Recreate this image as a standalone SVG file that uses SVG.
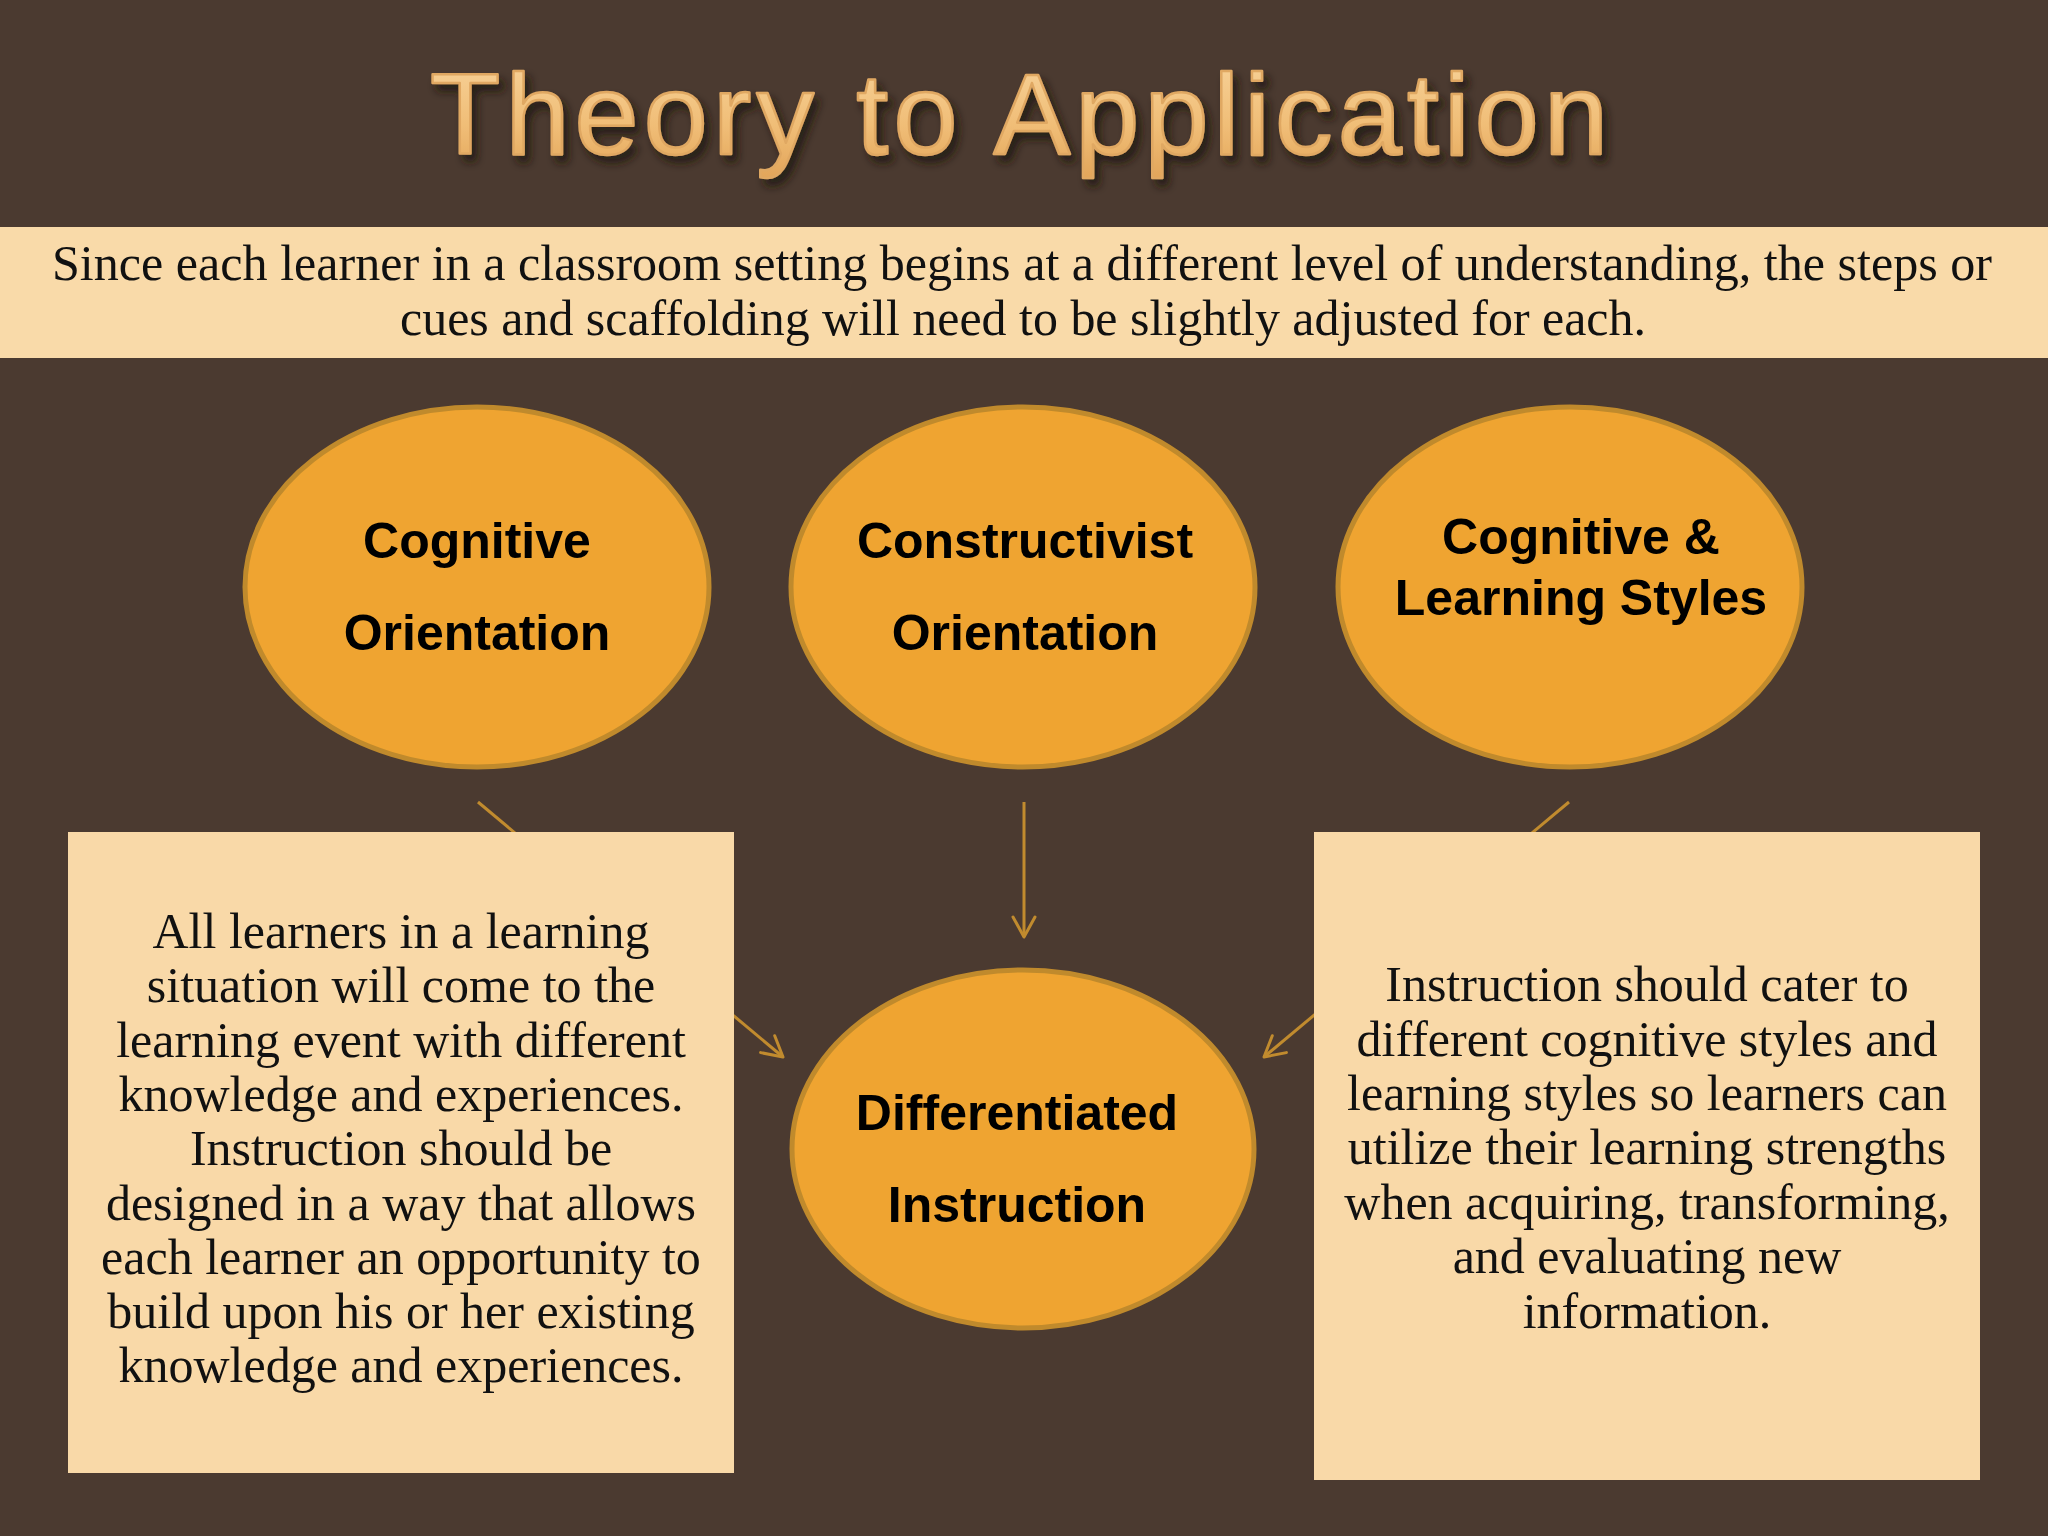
<svg xmlns="http://www.w3.org/2000/svg" width="2048" height="1536" viewBox="0 0 2048 1536">
  <style>
    .node-ellipse { fill: #efa431; stroke: #c08a2c; stroke-width: 5; }
    .node-label { font-family: "Liberation Sans", Arial, sans-serif; font-weight: bold; font-size: 50px; fill: #000; text-anchor: middle; }
    .box { fill: #f9d9a8; }
    .body { font-family: "Liberation Serif", "Times New Roman", serif; font-size: 50px; fill: #111; text-anchor: middle; }
    .conn { stroke: #c18b2e; stroke-width: 3; fill: none; }
  </style>
  <defs>
    <linearGradient id="titleGrad" x1="0" y1="0" x2="0" y2="1">
      <stop offset="0" stop-color="#f8d49c"/>
      <stop offset="0.6" stop-color="#f0bd76"/>
      <stop offset="1" stop-color="#e2a55a"/>
    </linearGradient>
    <filter id="titleShadow" x="-5%" y="-20%" width="110%" height="150%">
      <feDropShadow dx="5" dy="7" stdDeviation="4" flood-color="#1c120b" flood-opacity="0.85"/>
    </filter>
    <marker id="openArrow" viewBox="0 0 24 26" refX="22" refY="13" markerWidth="24" markerHeight="26" markerUnits="userSpaceOnUse" orient="auto">
      <path d="M2,2 L22,13 L2,24" fill="none" stroke="#c18b2e" stroke-width="3" stroke-linecap="round" stroke-linejoin="round"/>
    </marker>
  </defs>

  <rect x="0" y="0" width="2048" height="1536" fill="#4b3a30"/>

  <g id="title">
    <text x="430" y="154" font-family="Liberation Sans, Arial, sans-serif" font-size="115" letter-spacing="5.2" fill="url(#titleGrad)" stroke="#e0a862" stroke-width="2.5" stroke-linejoin="round" filter="url(#titleShadow)">Theory to Application</text>
  </g>

  <g id="banner">
    <rect x="0" y="227" width="2048" height="131" fill="#f9daa9"/>
    <text class="body" x="1022" y="280" textLength="1940" lengthAdjust="spacingAndGlyphs">Since each learner in a classroom setting begins at a different level of understanding, the steps or</text>
    <text class="body" x="1023" y="335" textLength="1246" lengthAdjust="spacingAndGlyphs">cues and scaffolding will need to be slightly adjusted for each.</text>
  </g>

  <g id="connectors">
    <line class="conn" x1="478" y1="802" x2="783" y2="1057" marker-end="url(#openArrow)"/>
    <line class="conn" x1="1024" y1="802" x2="1024" y2="937" marker-end="url(#openArrow)"/>
    <line class="conn" x1="1569" y1="802" x2="1264" y2="1057" marker-end="url(#openArrow)"/>
  </g>

  <g id="node-cognitive-orientation">
    <ellipse class="node-ellipse" cx="477" cy="587" rx="232" ry="180"/>
    <text class="node-label" x="477" y="558">Cognitive</text>
    <text class="node-label" x="477" y="650">Orientation</text>
  </g>

  <g id="node-constructivist-orientation">
    <ellipse class="node-ellipse" cx="1023" cy="587" rx="232" ry="180"/>
    <text class="node-label" x="1025" y="558">Constructivist</text>
    <text class="node-label" x="1025" y="650">Orientation</text>
  </g>

  <g id="node-cognitive-learning-styles">
    <ellipse class="node-ellipse" cx="1570" cy="587" rx="232" ry="180"/>
    <text class="node-label" x="1581" y="554">Cognitive &amp;</text>
    <text class="node-label" x="1581" y="615">Learning Styles</text>
  </g>

  <g id="node-differentiated-instruction">
    <ellipse class="node-ellipse" cx="1023" cy="1149" rx="231" ry="179"/>
    <text class="node-label" x="1017" y="1130">Differentiated</text>
    <text class="node-label" x="1017" y="1222">Instruction</text>
  </g>

  <g id="box-left">
    <rect class="box" x="68" y="832" width="666" height="641"/>
    <text class="body" x="401" y="948">All learners in a learning</text>
    <text class="body" x="401" y="1002">situation will come to the</text>
    <text class="body" x="401" y="1057">learning event with different</text>
    <text class="body" x="401" y="1111">knowledge and experiences.</text>
    <text class="body" x="401" y="1165">Instruction should be</text>
    <text class="body" x="401" y="1220">designed in a way that allows</text>
    <text class="body" x="401" y="1274">each learner an opportunity to</text>
    <text class="body" x="401" y="1328">build upon his or her existing</text>
    <text class="body" x="401" y="1382">knowledge and experiences.</text>
  </g>

  <g id="box-right">
    <rect class="box" x="1314" y="832" width="666" height="648"/>
    <text class="body" x="1647" y="1001">Instruction should cater to</text>
    <text class="body" x="1647" y="1056">different cognitive styles and</text>
    <text class="body" x="1647" y="1110">learning styles so learners can</text>
    <text class="body" x="1647" y="1164">utilize their learning strengths</text>
    <text class="body" x="1647" y="1219">when acquiring, transforming,</text>
    <text class="body" x="1647" y="1273">and evaluating new</text>
    <text class="body" x="1647" y="1328">information.</text>
  </g>
</svg>
